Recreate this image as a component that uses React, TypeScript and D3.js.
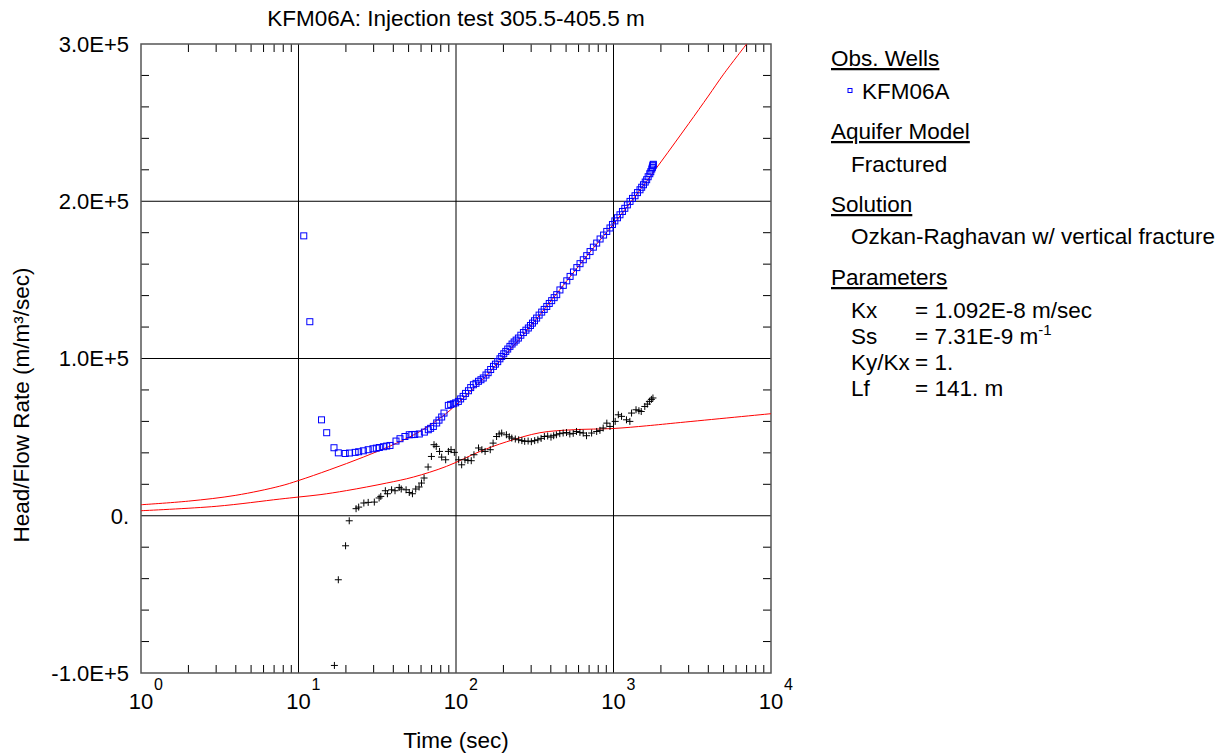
import React from "react";
import * as d3 from "d3";

const TITLE = "KFM06A: Injection test 305.5-405.5 m";
const X_LABEL = "Time (sec)";
const Y_LABEL = "Head/Flow Rate (m/m\u00b3/sec)";

const xDecades = [0, 1, 2, 3, 4];
const yMajorTicks = [-100000, 0, 100000, 200000, 300000];
const yTickLabels = ["-1.0E+5", "0.", "1.0E+5", "2.0E+5", "3.0E+5"];

// Observed head/flow (blue squares)
const obsTime = [10.8, 11.8, 14.0, 15.1, 16.8, 17.9, 19.8, 21.1, 22.9, 24.1, 25.8, 27.7, 29.7, 31.2, 32.6, 34.6, 36.3, 38.1, 41.6, 44.1, 47.4, 50.5, 52.5, 54.7, 58.5, 63.0, 66.7, 69.0, 71.8, 75.4, 78.0, 81.1, 83.9, 89.4, 92.5, 96.2, 99.5, 103.5, 107, 111, 115, 120, 124, 129, 134, 139, 144, 149, 155, 160, 166, 173, 178, 184, 190, 195, 201, 207, 213, 220, 227, 234, 241, 249, 258, 268, 278, 288, 297, 306, 315, 325, 337, 350, 363, 377, 391, 405, 420, 436, 457, 480, 505, 530, 557, 585, 613, 643, 676, 710, 745, 782, 822, 865, 906, 950, 985, 1020, 1060, 1099, 1140, 1180, 1225, 1273, 1320, 1370, 1420, 1473, 1510, 1550, 1590, 1624, 1660, 1700, 1725, 1750, 1765, 1775, 1785, 1790];
const obsValue = [178000, 123400, 61000, 52800, 43250, 40000, 39600, 39900, 40300, 40700, 41300, 42000, 42600, 43000, 43400, 43900, 44300, 44700, 47500, 49000, 50400, 51500, 51600, 51700, 52000, 53200, 54700, 55600, 56800, 59000, 60800, 62800, 65300, 70200, 70800, 71200, 71800, 72700, 74300, 75900, 77800, 79500, 81500, 83300, 84200, 85500, 86500, 87600, 89500, 91000, 93000, 95000, 96400, 98000, 99800, 101300, 103000, 104500, 106000, 107700, 109200, 110500, 111700, 113000, 114800, 116500, 118000, 119400, 121000, 122500, 124000, 125700, 127600, 129500, 131200, 133100, 135000, 136800, 138700, 140600, 143600, 146500, 149400, 152200, 155000, 157800, 160300, 162800, 165400, 168000, 170800, 173400, 176000, 178500, 180800, 183000, 185200, 187500, 189500, 191400, 193500, 195500, 197700, 199900, 201800, 203500, 205500, 207300, 208900, 210500, 212200, 213700, 215600, 217500, 218800, 220500, 221500, 222500, 223000, 223500];

// Derivative (black crosses)
const derTime = [16.9, 17.9, 19.9, 21.0, 23.2, 24.1, 26.0, 27.7, 30.3, 32.5, 33.3, 35.6, 36.7, 39.0, 41.0, 43.6, 44.9, 48.2, 50.5, 52.9, 55.5, 58.3, 60.4, 62.7, 66.5, 69.8, 72.5, 74.9, 78.6, 81.1, 86.0, 89.5, 93.0, 97.6, 104, 108.6, 114, 119, 125, 130, 139, 146, 153, 165, 172, 181, 188, 195, 209, 218, 226, 238, 250, 262, 273, 287, 301, 316, 331, 347, 364, 382, 401, 417, 434, 456, 479, 503, 528, 555, 582, 612, 642, 674, 726, 782, 820, 860, 907, 950, 1025, 1073, 1125, 1209, 1270, 1302, 1390, 1450, 1500, 1580, 1640, 1690, 1740, 1780];
const derValue = [-95200, -40700, -19100, -3200, 4500, 5500, 8100, 8500, 8700, 11300, 12300, 15900, 14000, 16500, 15900, 18000, 17000, 16500, 14800, 14000, 17000, 18300, 20800, 24000, 31000, 37700, 45200, 44100, 40900, 37300, 35600, 40900, 42000, 40300, 35600, 32400, 35600, 35200, 35000, 38800, 43100, 42000, 40900, 42000, 46200, 50400, 52000, 52600, 51500, 50200, 49400, 48800, 48300, 47800, 47300, 47500, 47100, 47800, 48300, 49200, 50400, 50700, 50000, 50900, 51500, 52200, 52600, 52900, 52000, 52400, 53600, 53000, 52600, 50900, 52600, 53600, 54300, 55800, 58900, 56800, 60000, 64200, 63200, 61000, 60000, 65300, 67400, 66800, 66300, 69500, 71000, 72700, 74000, 74900];

// Type curve (red, upper)
const fitTime = [1, 2, 4, 7.6, 10, 15.8, 25.8, 42, 59, 79, 89, 100, 150, 200, 300, 500, 700, 1000, 1500, 2000, 3000, 4000, 5000, 7000];
const fitValue = [7000, 9300, 13000, 18800, 22400, 29300, 37300, 46200, 53600, 62000, 66000, 70500, 87500, 101000, 121000, 148800, 167000, 185500, 208200, 225000, 249300, 266900, 280800, 300000];

// Derivative type curve (red, lower)
const fitDerTime = [1, 3, 7.6, 10, 13.7, 20.2, 36.3, 53.6, 87, 142, 209, 341, 557, 1000, 1624, 2661, 10000];
const fitDerValue = [3200, 6000, 10600, 11900, 13400, 16000, 20800, 24600, 31400, 40900, 47000, 52800, 54700, 55500, 57200, 59300, 64900];

const FONT = "'Liberation Sans', Arial, Helvetica, sans-serif";

export default function App() {
  const W = 1226, H = 754;
  const left = 141, right = 771, top = 44, bottom = 673;
  const x = d3.scaleLog().domain([1, 10000]).range([left, right]);
  const y = d3.scaleLinear().domain([-100000, 300000]).range([bottom, top]);

  const minorX: number[] = [];
  for (let d = 0; d < 4; d++) for (let k = 2; k <= 9; k++) minorX.push(k * Math.pow(10, d));
  const minorY: number[] = [];
  for (let v = -100000; v <= 300000; v += 20000) if (v % 100000 !== 0) minorY.push(v);

  const line = d3.line<[number, number]>()
    .x(d => x(d[0]))
    .y(d => y(d[1]))
    .curve(d3.curveCatmullRom.alpha(0.5));
  const fitPts = fitTime.map((t, i) => [t, fitValue[i]] as [number, number]);
  const fitDerPts = fitDerTime.map((t, i) => [t, fitDerValue[i]] as [number, number]);

  const legendX = 831;
  const indentX = 851;
  const lf = 22.5;
  const tf = 22;
  const headings = [
    { text: "Obs. Wells", y: 66 },
    { text: "Aquifer Model", y: 139 },
    { text: "Solution", y: 212 },
    { text: "Parameters", y: 285 },
  ];
  const params = [
    { k: "Kx", v: "= 1.092E-8 m/sec", y: 318 },
    { k: "Ss", v: "= 7.31E-9 m", y: 344, sup: "-1" },
    { k: "Ky/Kx", v: "= 1.", y: 370 },
    { k: "Lf", v: "= 141. m", y: 396 },
  ];

  return (
    <svg width={W} height={H} style={{ position: "absolute", left: 0, top: 0, background: "#fff" }} fontFamily={FONT}>
      <defs>
        <clipPath id="plotclip">
          <rect x={left} y={top} width={right - left} height={bottom - top} />
        </clipPath>
      </defs>
      <rect x={0} y={0} width={W} height={H} fill="#fff" />
      {/* grid */}
      {[10, 100, 1000].map(t => (
        <line key={"gx" + t} x1={x(t)} x2={x(t)} y1={top} y2={bottom} stroke="#000" strokeWidth={1} />
      ))}
      {[0, 100000, 200000].map(v => (
        <line key={"gy" + v} x1={left} x2={right} y1={y(v)} y2={y(v)} stroke="#000" strokeWidth={1} />
      ))}
      {/* minor ticks */}
      {minorX.map(t => (
        <g key={"mx" + t}>
          <line x1={x(t)} x2={x(t)} y1={bottom} y2={bottom - 8} stroke="#000" strokeWidth={1} />
          <line x1={x(t)} x2={x(t)} y1={top} y2={top + 8} stroke="#000" strokeWidth={1} />
        </g>
      ))}
      {minorY.map(v => (
        <g key={"my" + v}>
          <line x1={left} x2={left + 8} y1={y(v)} y2={y(v)} stroke="#000" strokeWidth={1} />
          <line x1={right} x2={right - 8} y1={y(v)} y2={y(v)} stroke="#000" strokeWidth={1} />
        </g>
      ))}
      {/* frame */}
      <rect x={left} y={top} width={right - left} height={bottom - top} fill="none" stroke="#555" strokeWidth={1.5} />

      <g clipPath="url(#plotclip)">
        <path d={line(fitPts) || ""} fill="none" stroke="#ff0000" strokeWidth={1} />
        <path d={line(fitDerPts) || ""} fill="none" stroke="#ff0000" strokeWidth={1} />
        {derTime.map((t, i) => {
          const cx = x(t), cy = y(derValue[i]);
          return (
            <path key={"d" + i} d={`M${cx - 3.5},${cy}H${cx + 3.5}M${cx},${cy - 3.5}V${cy + 3.5}`} stroke="#000" strokeWidth={1} fill="none" />
          );
        })}
        {obsTime.map((t, i) => (
          <rect key={"o" + i} x={x(t) - 3} y={y(obsValue[i]) - 3} width={6} height={6} fill="none" stroke="#0000ff" strokeWidth={1} />
        ))}
      </g>

      {/* y tick labels */}
      {yMajorTicks.map((v, i) => (
        <text key={"yl" + v} x={129} y={y(v)} dy="0.36em" textAnchor="end" fontSize={tf} fill="#000">{yTickLabels[i]}</text>
      ))}
      {/* x tick labels */}
      {xDecades.map(d => (
        <g key={"xl" + d}>
          <text x={x(Math.pow(10, d))} y={709} textAnchor="middle" fontSize={tf} fill="#000">10</text>
          <text x={x(Math.pow(10, d)) + 13} y={690} fontSize={16} fill="#000">{d}</text>
        </g>
      ))}

      <text x={(left + right) / 2} y={26} textAnchor="middle" fontSize={22.5} fill="#000">{TITLE}</text>
      <text x={(left + right) / 2} y={748} textAnchor="middle" fontSize={22.5} fill="#000">{X_LABEL}</text>
      <text transform={`translate(29,405) rotate(-90)`} textAnchor="middle" fontSize={22.5} fill="#000">{Y_LABEL}</text>

      {/* legend */}
      {headings.map(h => (
        <text key={h.text} x={legendX} y={h.y} fontSize={lf} fill="#000" textDecoration="underline">{h.text}</text>
      ))}
      <rect x={848} y={88.5} width={4} height={4} fill="none" stroke="#0000ff" strokeWidth={1} />
      <text x={862} y={99} fontSize={lf} fill="#000">KFM06A</text>
      <text x={indentX} y={172} fontSize={lf} fill="#000">Fractured</text>
      <text x={indentX} y={244} fontSize={lf} fill="#000">Ozkan-Raghavan w/ vertical fracture</text>
      {params.map(p => (
        <g key={p.k}>
          <text x={indentX} y={p.y} fontSize={lf} fill="#000">{p.k}</text>
          <text x={915} y={p.y} fontSize={lf} fill="#000">
            {p.v}
            {p.sup ? <tspan fontSize={15} dy={-9}>{p.sup}</tspan> : null}
          </text>
        </g>
      ))}
    </svg>
  );
}
